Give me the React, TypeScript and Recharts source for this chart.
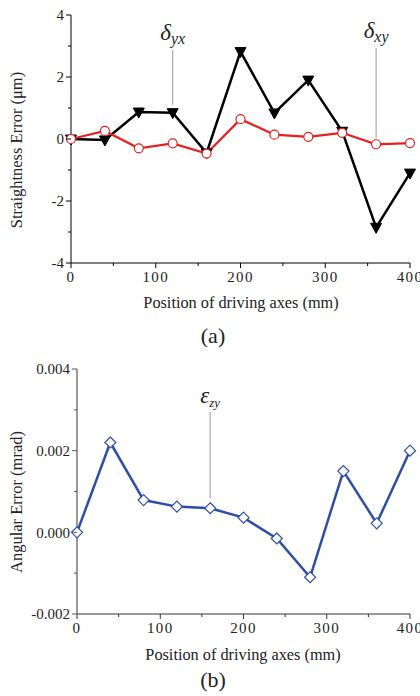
import { LineChart, Line, XAxis, YAxis, ReferenceLine } from "recharts";

// positions along the driving axes (mm)
const positions = [0, 40, 80, 120, 160, 200, 240, 280, 320, 360, 400];
// straightness errors (um)
const deltaYx = [0, -0.03, 0.87, 0.85, -0.45, 2.82, 0.84, 1.9, 0.25, -2.85, -1.1];
const deltaXy = [0, 0.26, -0.3, -0.14, -0.47, 0.64, 0.14, 0.07, 0.2, -0.17, -0.13];
// angular error (mrad)
const epsZy = [0, 0.0022, 0.00079, 0.00063, 0.00059, 0.00036, -0.00015, -0.0011, 0.0015, 0.00022, 0.002];

const xTicks = [0, 50, 100, 150, 200, 250, 300, 350, 400];
const yTicksA = [-4, -3, -2, -1, 0, 1, 2, 3, 4];
const yTicksB = [-0.002, -0.001, 0, 0.001, 0.002, 0.003, 0.004];

const dataA = positions.map((x, i) => ({ x, yx: deltaYx[i], xy: deltaXy[i] }));
const dataB = positions.map((x, i) => ({ x, zy: epsZy[i] }));

const FONT = "Liberation Serif, DejaVu Serif, Times, serif";

function XTick({ x, y, payload, color }: any) {
  const major = payload.value % 100 === 0;
  return (
    <g>
      <line x1={x} y1={y} x2={x} y2={y + (major ? 5 : 3)} stroke={color} strokeWidth={1} />
      {major && (
        <text x={x} y={y + 19} textAnchor="middle" fontFamily={FONT} fontSize={15} letterSpacing={1.3} fill="#222">
          {payload.value}
        </text>
      )}
    </g>
  );
}

function YTickA({ x, y, payload }: any) {
  const major = payload.value % 2 === 0;
  return (
    <g>
      <line x1={x - (major ? 5 : 3)} y1={y} x2={x} y2={y} stroke="#000" strokeWidth={1} />
      {major && (
        <text x={x - 7} y={y} dy="0.35em" textAnchor="end" fontFamily={FONT} fontSize={15} fill="#222">
          {payload.value}
        </text>
      )}
    </g>
  );
}

function YTickB({ x, y, payload }: any) {
  const major = Math.round(payload.value * 1000) % 2 === 0;
  return (
    <g>
      <line x1={x - (major ? 5 : 3)} y1={y} x2={x} y2={y} stroke="#555" strokeWidth={1} />
      {major && (
        <text x={x - 7} y={y} dy="0.35em" textAnchor="end" fontFamily={FONT} fontSize={15} fill="#222">
          {payload.value.toFixed(3)}
        </text>
      )}
    </g>
  );
}

const triangle = (props: any) => {
  const { cx, cy, index } = props;
  return (
    <path
      key={`t-${index}`}
      d={`M${cx - 5.5},${cy - 4} L${cx + 5.5},${cy - 4} L${cx},${cy + 6} Z`}
      fill="#000"
      stroke="#000"
    />
  );
};

const circle = (props: any) => {
  const { cx, cy, index } = props;
  return <circle key={`c-${index}`} cx={cx} cy={cy} r={4.5} fill="#fff" stroke="#e62020" strokeWidth={1.2} />;
};

const diamond = (props: any) => {
  const { cx, cy, index } = props;
  return (
    <path
      key={`d-${index}`}
      d={`M${cx},${cy - 5.5} L${cx + 5.5},${cy} L${cx},${cy + 5.5} L${cx - 5.5},${cy} Z`}
      fill="#fff"
      stroke="#2d4fa3"
      strokeWidth={1.2}
    />
  );
};

// annotation text above a grey pointer line
function Anno({ viewBox, sym, sub, size, subSize, gap }: any) {
  if (!viewBox) return null;
  const cx = viewBox.x;
  const top = viewBox.y;
  return (
    <text x={cx} y={top - gap} textAnchor="middle" fontFamily={FONT} fontStyle="italic" fill="#222">
      <tspan fontSize={size}>{sym}</tspan>
      <tspan fontSize={subSize} dy={4}>
        {sub}
      </tspan>
    </text>
  );
}

const titleStyle: React.CSSProperties = {
  position: "absolute",
  transform: "translate(-50%, -50%)",
  whiteSpace: "nowrap",
  fontFamily: FONT,
  color: "#222",
};

export default function App() {
  return (
    <div style={{ position: "absolute", left: 0, top: 0, width: 420, height: 696, background: "#fff" }}>
      {/* (a) straightness */}
      <div style={{ position: "absolute", left: 0, top: 0 }}>
        <LineChart width={420} height={290} data={dataA} margin={{ top: 15, right: 10, left: 0, bottom: 0 }}>
          <XAxis
            dataKey="x"
            type="number"
            domain={[0, 400]}
            ticks={xTicks}
            interval={0}
            height={27}
            tickSize={0}
            tickMargin={0}
            stroke="#000"
            tick={<XTick color="#000" />}
          />
          <YAxis
            type="number"
            domain={[-4, 4]}
            ticks={yTicksA}
            interval={0}
            width={71}
            tickSize={0}
            tickMargin={0}
            stroke="#000"
            tick={<YTickA />}
          />
          <ReferenceLine
            segment={[{ x: 120, y: 2.87 }, { x: 120, y: 1.1 }]}
            stroke="#999"
            label={<Anno sym="δ" sub="yx" size={23} subSize={16} gap={10} />}
          />
          <ReferenceLine
            segment={[{ x: 360, y: 2.94 }, { x: 360, y: 0.03 }]}
            stroke="#999"
            label={<Anno sym="δ" sub="xy" size={23} subSize={16} gap={10} />}
          />
          <Line
            dataKey="yx"
            stroke="#000"
            strokeWidth={2.5}
            dot={triangle}
            isAnimationActive={false}
          />
          <Line
            dataKey="xy"
            stroke="#e62020"
            strokeWidth={2.2}
            dot={circle}
            isAnimationActive={false}
          />
        </LineChart>
      </div>
      <div style={{ ...titleStyle, left: 241, top: 303, fontSize: 16.3 }}>Position of driving axes (mm)</div>
      <div style={{ ...titleStyle, left: 213, top: 336, fontSize: 22 }}>(a)</div>
      <div style={{ ...titleStyle, left: 17, top: 150, fontSize: 16.5, transform: "translate(-50%, -50%) rotate(-90deg)" }}>
        Straightness Error (μm)
      </div>

      {/* (b) angular */}
      <div style={{ position: "absolute", left: 0, top: 350 }}>
        <LineChart width={420} height={300} data={dataB} margin={{ top: 19, right: 10, left: 0, bottom: 0 }}>
          <XAxis
            dataKey="x"
            type="number"
            domain={[0, 400]}
            ticks={xTicks}
            interval={0}
            height={36}
            tickSize={0}
            tickMargin={0}
            stroke="#333"
            tick={<XTick color="#333" />}
          />
          <YAxis
            type="number"
            domain={[-0.002, 0.004]}
            ticks={yTicksB}
            interval={0}
            width={77}
            tickSize={0}
            tickMargin={0}
            stroke="#777"
            strokeWidth={1.5}
            tick={<YTickB />}
          />
          <ReferenceLine
            segment={[{ x: 160, y: 0.00295 }, { x: 160, y: 0.00083 }]}
            stroke="#bbb"
            strokeWidth={1.5}
            label={<Anno sym="ε" sub="zy" size={23} subSize={13} gap={9} />}
          />
          <Line
            dataKey="zy"
            stroke="#2d4fa3"
            strokeWidth={2.5}
            dot={diamond}
            isAnimationActive={false}
          />
        </LineChart>
      </div>
      <div style={{ ...titleStyle, left: 243, top: 655, fontSize: 16.3 }}>Position of driving axes (mm)</div>
      <div style={{ ...titleStyle, left: 213, top: 680, fontSize: 22 }}>(b)</div>
      <div style={{ ...titleStyle, left: 17, top: 502, fontSize: 16.5, transform: "translate(-50%, -50%) rotate(-90deg)" }}>
        Angular Error (mrad)
      </div>
    </div>
  );
}
